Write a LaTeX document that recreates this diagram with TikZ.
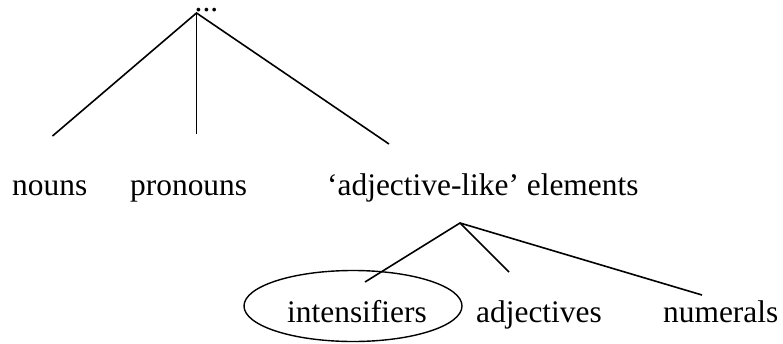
\documentclass[tikz,border=0pt]{standalone}
\usepackage{fontspec}
\setmainfont{Liberation Serif}[Ligatures=NoCommon]
\begin{document}
\begin{tikzpicture}[x=1pt,y=-1pt,
  word/.style={anchor=base west,inner sep=0pt,font=\fontsize{31.4}{36}\selectfont},
  branch/.style={line width=1.6pt}]
\useasboundingbox (0,0) rectangle (783,343);
% upper tree
\node[word] (top) at (194.5,11) {...};
\coordinate (r) at (196.5,13);
\coordinate (e1) at (52.5,136);
\coordinate (e2) at (196.5,134);
\coordinate (e3) at (389,144);
\draw[branch] (e1) -- (r) -- (e3);
\draw[branch] (r) -- (e2);
\node[word] (nouns) at (12,195) {nouns};
\node[word] (pron) at (130,195) {pronouns};
\node[word] (adjl) at (327,195) {‘adjective-like’ elements};
% lower tree
\coordinate (s) at (460,223);
\coordinate (f1) at (365,282);
\coordinate (f2) at (509,272);
\coordinate (f3) at (702,295);
\draw[branch] (f1) -- (s) -- (f3);
\draw[branch] (s) -- (f2);
\node[word] (int) at (287,322) {intensifiers};
\node[word] (adj) at (476,322) {adjectives};
\node[word] (num) at (663,322) {numerals};
\draw[line width=1.4pt] (353,306) ellipse [x radius=109, y radius=35.5];
\end{tikzpicture}
\end{document}
